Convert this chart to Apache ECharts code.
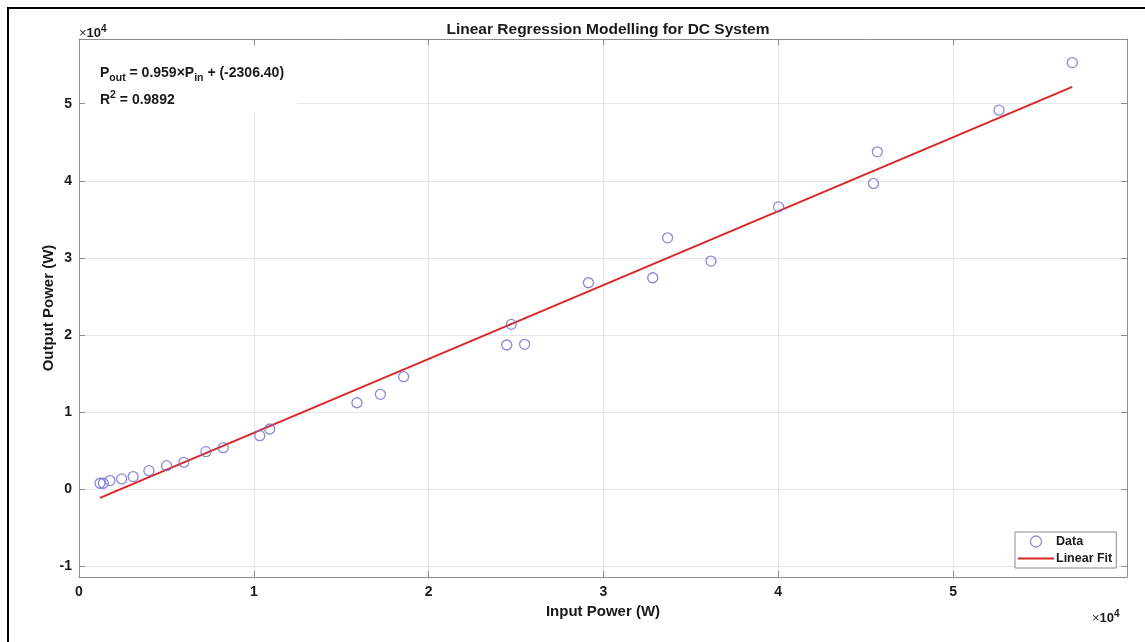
<!DOCTYPE html>
<html>
<head>
<meta charset="utf-8">
<title>Linear Regression Modelling for DC System</title>
<script src="https://cdn.jsdelivr.net/npm/echarts@6/dist/echarts.min.js"></script>
<style>
  html, body { margin: 0; padding: 0; background: #ffffff; }
  #chart { width: 1145px; height: 642px; }
</style>
</head>
<body>
<div id="chart"></div>
<script>
// Measured DC system operating points (W)
const inputPower = [1200, 1390, 1770, 2440, 3100, 4000, 5010, 6000, 7260, 8250, 10340, 10910,
  15900, 17240, 18570, 24470, 24730, 25490, 29140, 32820, 33670, 36150, 40020, 45450, 45670,
  52630, 56820];
const outputPower = [740, 740, 1080, 1300, 1600, 2370, 3020, 3460, 4840, 5360, 6910, 7780,
  11190, 12280, 14570, 18680, 21360, 18770, 26760, 27410, 32590, 29570, 36610, 39650, 43750,
  49160, 55340];

// Regression coefficients and goodness of fit
const slope = 0.959;
const intercept = -2306.40;
const rSquared = '0.9892';

// Tick positions (W) and the x10^4 scale used for labels
const xTicks = [0, 10000, 20000, 30000, 40000, 50000];
const yTicks = [-10000, 0, 10000, 20000, 30000, 40000, 50000];
const tickScale = 10000;

const seriesNames = ['Data', 'Linear Fit'];

const scatterData = inputPower.map((x, i) => [x, outputPower[i]]);
const xMinData = Math.min(...inputPower);
const xMaxData = Math.max(...inputPower);
const fitData = [xMinData, xMaxData].map(x => [x, slope * x + intercept]);

const FONT = '"Liberation Sans", Arial, Helvetica, sans-serif';
const AXIS_GRAY = '#8c8c8c';
const GRID_GRAY = '#e6e6e6';
const DATA_COLOR = '#6d6dd0';
const FIT_COLOR = '#dc2626';
const TEXT_COLOR = '#1a1a1a';

const chart = echarts.init(document.getElementById('chart'), null, { renderer: 'canvas' });

const tickFmt = v => String(Math.round(v / tickScale));

function makeAxis(extra) {
  return Object.assign({
    type: 'value',
    axisLine: { show: true, onZero: false, lineStyle: { color: AXIS_GRAY, width: 1 } },
    splitLine: { show: false },
    axisLabel: { show: false }
  }, extra);
}

const expRich = {
  x: { fontFamily: FONT, fontSize: 13, fill: '#333333' },
  b: { fontFamily: FONT, fontSize: 13, fontWeight: 'bold', fill: TEXT_COLOR },
  s: { fontFamily: FONT, fontSize: 10, fontWeight: 'bold', fill: TEXT_COLOR, padding: [0, 0, 8, 0] }
};

const option = {
  backgroundColor: '#ffffff',
  animation: false,
  title: {
    text: 'Linear Regression Modelling for DC System',
    left: 603,
    textAlign: 'center',
    top: 17,
    textStyle: { fontFamily: FONT, fontSize: 15.5, fontWeight: 'bold', color: TEXT_COLOR }
  },
  grid: { left: 79, right: 18, top: 39, bottom: 65, containLabel: false },
  legend: {
    data: [
      {
        name: seriesNames[0],
        icon: 'circle',
        itemStyle: { color: 'rgba(255,255,255,0)', borderColor: DATA_COLOR, borderWidth: 1.3 }
      },
      {
        name: seriesNames[1],
        icon: 'path://M0,0 L36,0 L36,2 L0,2 Z',
        itemStyle: { color: FIT_COLOR, borderWidth: 0 }
      }
    ],
    orient: 'vertical',
    left: 1015,
    top: 532,
    itemWidth: 36,
    itemHeight: 11,
    itemGap: 4,
    padding: [3, 4, 3, 3],
    backgroundColor: '#ffffff',
    borderColor: '#8a8a8a',
    borderWidth: 1,
    borderRadius: 0,
    textStyle: { fontFamily: FONT, fontSize: 12.5, fontWeight: 'bold', color: TEXT_COLOR, padding: [0, 0, 0, -3] }
  },
  xAxis: [
    makeAxis({
      position: 'bottom',
      min: 0,
      max: 59950,
      name: 'Input Power (W)',
      nameLocation: 'middle',
      nameGap: 27,
      nameTextStyle: { fontFamily: FONT, fontSize: 15, fontWeight: 'bold', color: TEXT_COLOR },
      axisTick: { show: true, inside: true, length: 6, customValues: xTicks, lineStyle: { color: AXIS_GRAY } },
      axisLabel: {
        show: true, customValues: xTicks, formatter: tickFmt, margin: 8,
        fontFamily: FONT, fontSize: 14, fontWeight: 'bold', color: TEXT_COLOR
      },
      splitLine: { show: true, lineStyle: { color: GRID_GRAY, width: 1 } }
    }),
    makeAxis({
      position: 'top',
      min: 0,
      max: 59950,
      axisTick: { show: true, inside: true, length: 6, customValues: xTicks, lineStyle: { color: AXIS_GRAY } },
      axisLabel: { show: false, customValues: xTicks }
    })
  ],
  yAxis: [
    makeAxis({
      position: 'left',
      min: -11430,
      max: 58400,
      name: 'Output Power (W)',
      nameLocation: 'middle',
      nameGap: 23,
      nameMoveOverlap: false,
      nameRotate: 90,
      nameTextStyle: { fontFamily: FONT, fontSize: 15, fontWeight: 'bold', color: TEXT_COLOR },
      axisTick: { show: true, inside: true, length: 6, customValues: yTicks, lineStyle: { color: AXIS_GRAY } },
      axisLabel: {
        show: true, customValues: yTicks, formatter: tickFmt, margin: 7,
        fontFamily: FONT, fontSize: 14, fontWeight: 'bold', color: TEXT_COLOR
      },
      splitLine: { show: true, lineStyle: { color: GRID_GRAY, width: 1 } }
    }),
    makeAxis({
      position: 'right',
      min: -11430,
      max: 58400,
      axisTick: { show: true, inside: true, length: 6, customValues: yTicks, lineStyle: { color: AXIS_GRAY } },
      axisLabel: { show: false, customValues: yTicks }
    })
  ],
  series: [
    {
      name: seriesNames[0],
      type: 'scatter',
      xAxisIndex: 0,
      yAxisIndex: 0,
      data: scatterData,
      symbol: 'circle',
      symbolSize: 10,
      itemStyle: { color: 'rgba(255,255,255,0)', borderColor: DATA_COLOR, borderWidth: 1.3 },
      z: 3
    },
    {
      name: seriesNames[1],
      type: 'line',
      xAxisIndex: 0,
      yAxisIndex: 0,
      data: fitData,
      showSymbol: false,
      symbol: 'none',
      lineStyle: { color: FIT_COLOR, width: 2 },
      itemStyle: { color: FIT_COLOR },
      z: 2
    }
  ],
  graphic: [
    // outer frame
    {
      type: 'rect',
      shape: { x: 8, y: 8, width: 1160, height: 660 },
      style: { fill: 'none', stroke: '#000000', lineWidth: 2 },
      silent: true
    },
    // equation box
    {
      type: 'rect',
      shape: { x: 85, y: 48, width: 212, height: 64 },
      style: { fill: '#ffffff', stroke: 'none' },
      silent: true,
      z: 10
    },
    {
      type: 'text',
      left: 100,
      top: 66,
      z: 11,
      style: {
        text: '{b|P}{sub|out}{b| = ' + slope.toFixed(3) + '×P}{sub|in}{b| + (' + intercept.toFixed(2) + ')}',
        fill: TEXT_COLOR,
        rich: {
          b: { fontFamily: FONT, fontSize: 14, fontWeight: 'bold', fill: TEXT_COLOR },
          sub: { fontFamily: FONT, fontSize: 10.5, fontWeight: 'bold', fill: TEXT_COLOR, padding: [10, 0, 0, 0] }
        }
      }
    },
    {
      type: 'text',
      left: 100,
      top: 90,
      z: 11,
      style: {
        text: '{b|R}{sup|2}{b| = ' + rSquared + '}',
        fill: TEXT_COLOR,
        rich: {
          b: { fontFamily: FONT, fontSize: 14, fontWeight: 'bold', fill: TEXT_COLOR },
          sup: { fontFamily: FONT, fontSize: 10.5, fontWeight: 'bold', fill: TEXT_COLOR, padding: [0, 0, 9, 0] }
        }
      }
    },
    // axis exponent labels
    {
      type: 'text',
      left: 79,
      top: 24,
      style: { text: '{x|×}{b|10}{s|4}', rich: expRich }
    },
    {
      type: 'text',
      left: 1092,
      top: 609,
      style: { text: '{x|×}{b|10}{s|4}', rich: expRich }
    }
  ]
};

chart.setOption(option);
</script>
</body>
</html>
